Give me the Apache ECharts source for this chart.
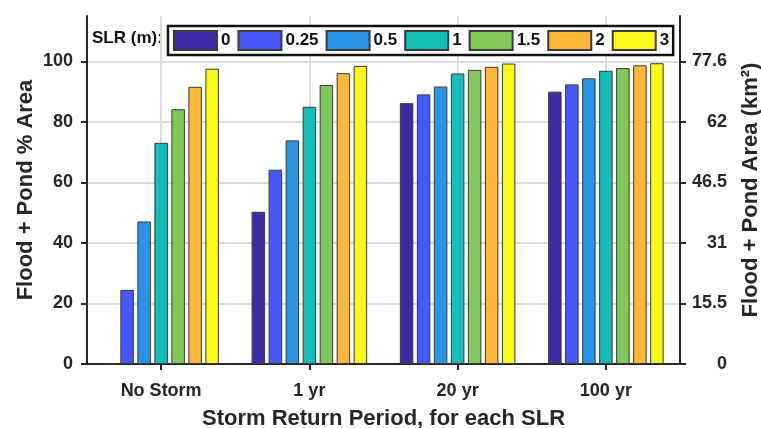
<!DOCTYPE html>
<html>
<head>
<meta charset="utf-8">
<script src="https://cdn.jsdelivr.net/npm/echarts@6/dist/echarts.min.js"></script>
<style>
  html, body { margin: 0; padding: 0; background: #fff; }
  #chart { width: 761px; height: 428px; }
</style>
</head>
<body>
<div id="chart"></div>
<script>
// storm return periods (x categories)
const categories = ['No Storm', '1 yr', '20 yr', '100 yr'];
// sea level rise scenarios (legend)
const slrLevels = ['0', '0.25', '0.5', '1', '1.5', '2', '3'];
// flood + pond % area, one array per SLR, ordered like categories
const slr0 = [0, 50.3, 86.2, 90.0];
const slr025 = [24.5, 64.2, 89.1, 92.4];
const slr05 = [47.1, 73.9, 91.7, 94.4];
const slr1 = [73.1, 85.0, 96.0, 96.9];
const slr15 = [84.2, 92.2, 97.2, 97.8];
const slr2 = [91.6, 96.1, 98.2, 98.7];
const slr3 = [97.6, 98.5, 99.3, 99.4];
// ticks
const leftTicks = [0, 20, 40, 60, 80, 100];
const rightTickLabels = ['0', '15.5', '31', '46.5', '62', '77.6'];

const seriesValues = [slr0, slr025, slr05, slr1, slr15, slr2, slr3];
const colors = ['#3C2AA8', '#4558F6', '#2894E6', '#14BDB6', '#7FCA56', '#FBB83B', '#F8F817'];

const FONT = '"Liberation Sans", Arial, sans-serif';
const INK = '#262626';

const chart = echarts.init(document.getElementById('chart'));

const series = slrLevels.map((name, i) => ({
  name: name,
  type: 'bar',
  data: seriesValues[i],
  barWidth: 13.5,
  barGap: '26%',
  itemStyle: { color: colors[i], borderColor: '#3a3a3a', borderWidth: 1 }
}));

chart.setOption({
  animation: false,
  textStyle: { fontFamily: FONT },
  grid: { left: 87, right: 81, top: 16, bottom: 64, containLabel: false, outerBoundsMode: 'none' },
  legend: {
    data: slrLevels,
    left: 168,
    top: 26,
    orient: 'horizontal',
    itemWidth: 43,
    itemHeight: 19,
    itemGap: 7,
    padding: [4, 4, 4, 5],
    borderColor: '#111',
    borderWidth: 2.5,
    backgroundColor: '#fff',
    icon: 'rect',
    textStyle: { fontFamily: FONT, fontSize: 17, fontWeight: 'bold', color: '#111', padding: [0, 0, 0, -1] }
  },
  graphic: [{
    type: 'text',
    left: 92,
    top: 30,
    style: { text: 'SLR (m):', font: 'bold 17px ' + FONT, fill: '#111' }
  }],
  xAxis: [{
    type: 'category',
    data: categories,
    position: 'bottom',
    axisLine: { lineStyle: { color: INK, width: 2 } },
    axisTick: { show: true, alignWithLabel: true, inside: false, length: 6, lineStyle: { color: INK, width: 2 } },
    axisLabel: { margin: 18, fontSize: 18, fontWeight: 'bold', color: INK, fontFamily: FONT },
    splitLine: { show: false },
    name: 'Storm Return Period, for each SLR',
    nameLocation: 'middle',
    nameGap: 44,
    nameMoveOverlap: false,
    nameTextStyle: { fontSize: 22, fontWeight: 'bold', color: INK, fontFamily: FONT }
  }, {
    // helper axis: grid lines and top ticks at category centres, plus top frame
    type: 'category',
    data: ['', '', '', '', '', '', '', '', ''],
    boundaryGap: false,
    position: 'top',
    axisLine: { show: true, lineStyle: { color: INK, width: 2 } },
    axisTick: { show: true, interval: (idx) => idx % 2 === 1, length: 6, lineStyle: { color: INK, width: 2 } },
    axisLabel: { show: false },
    splitLine: { show: true, interval: (idx) => idx % 2 === 1, lineStyle: { color: '#dcdcdc', width: 2 } }
  }],
  yAxis: [{
    type: 'value',
    min: 0,
    max: 115,
    interval: 20,
    position: 'left',
    axisLine: { show: true, lineStyle: { color: INK, width: 2 } },
    axisTick: { show: true, length: 6, customValues: leftTicks, lineStyle: { color: INK, width: 2 } },
    axisLabel: { margin: 14, fontSize: 18, fontWeight: 'bold', color: INK, fontFamily: FONT, customValues: leftTicks },
    splitLine: { show: true, lineStyle: { color: '#dcdcdc', width: 2 } },
    name: 'Flood + Pond % Area',
    nameLocation: 'middle',
    nameRotate: 90,
    nameGap: 50,
    nameMoveOverlap: false,
    nameTextStyle: { fontSize: 22, fontWeight: 'bold', color: INK, fontFamily: FONT }
  }, {
    type: 'value',
    min: 0,
    max: 115,
    interval: 20,
    position: 'right',
    axisLine: { show: true, lineStyle: { color: INK, width: 2 } },
    axisTick: { show: true, length: 6, customValues: leftTicks, lineStyle: { color: INK, width: 2 } },
    axisLabel: {
      margin: 47, align: 'right', fontSize: 18, fontWeight: 'bold', color: INK, fontFamily: FONT,
      customValues: leftTicks,
      formatter: (v) => rightTickLabels[leftTicks.indexOf(v)] || ''
    },
    splitLine: { show: false },
    name: 'Flood + Pond Area (km²)',
    nameLocation: 'middle',
    nameRotate: 90,
    nameGap: 60,
    nameTextStyle: { fontSize: 22, fontWeight: 'bold', color: INK, fontFamily: FONT }
  }],
  series: series
});
</script>
</body>
</html>
